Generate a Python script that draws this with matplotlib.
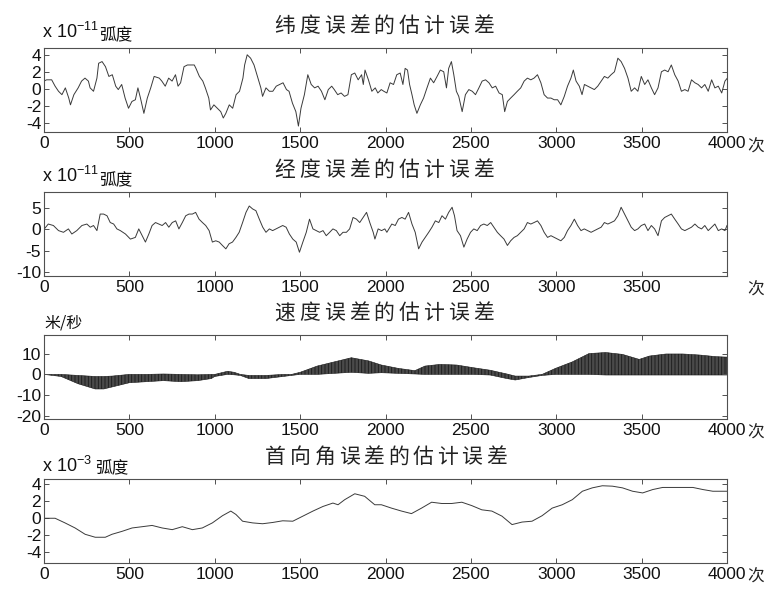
import numpy as np
import matplotlib
matplotlib.use("Agg")
import matplotlib.pyplot as plt

plt.rcParams.update({
    "axes.unicode_minus": False,
    "mathtext.fontset": "custom",
    "mathtext.rm": "Liberation Sans",
    "mathtext.default": "regular",
    "hatch.linewidth": 0.6,
})

W, H = 773, 589
CJK = ["Noto Sans CJK SC", "DejaVu Sans"]
NUM = "Liberation Sans"
TRACE = "#3a3a3a"
AXC = "#505050"

# latitude error estimate (x 1e-11 rad)
lat_x = [0, 15, 45, 65, 85, 105, 125, 145, 155, 175, 200, 220, 240, 260, 270, 290, 310, 320, 340, 360,
         380, 400, 420, 435, 455, 475, 495, 515, 535, 550, 565, 585, 605, 625, 645, 675, 690, 710, 730, 750,
         770, 785, 800, 820, 840, 860, 880, 890, 910, 930, 945, 965, 975, 995, 1015, 1035, 1050, 1065, 1085, 1105,
         1125, 1145, 1165, 1175, 1190, 1210, 1230, 1250, 1270, 1280, 1300, 1320, 1340, 1360, 1380, 1400, 1420, 1435, 1455, 1475,
         1490, 1505, 1525, 1545, 1565, 1585, 1605, 1625, 1645, 1665, 1685, 1700, 1720, 1740, 1760, 1780, 1800, 1820, 1840, 1860,
         1870, 1880, 1900, 1920, 1940, 1955, 1975, 1990, 2008, 2027, 2047, 2066, 2086, 2102, 2115, 2129, 2141, 2155, 2168, 2184,
         2204, 2223, 2243, 2263, 2282, 2302, 2321, 2341, 2357, 2370, 2386, 2400, 2415, 2429, 2449, 2468, 2488, 2508, 2527, 2547,
         2566, 2586, 2606, 2625, 2645, 2665, 2684, 2698, 2714, 2733, 2753, 2772, 2792, 2812, 2831, 2851, 2870, 2890, 2910, 2929,
         2949, 2969, 2988, 3008, 3027, 3047, 3066, 3086, 3100, 3116, 3135, 3151, 3165, 3184, 3204, 3223, 3243, 3263, 3282, 3302,
         3321, 3341, 3361, 3380, 3400, 3420, 3439, 3459, 3478, 3498, 3518, 3537, 3557, 3576, 3596, 3616, 3635, 3655, 3674, 3694,
         3714, 3733, 3753, 3772, 3792, 3812, 3831, 3851, 3870, 3890, 3910, 3929, 3949, 3969, 3988, 4000]
lat_y = [0.9, 1.05, 1.05, 0.3, -0.3, -0.7, 0.1, -1.1, -1.9, -0.7, 0.1, 0.9, 1.25, 0.9, 0.1, -0.3, 1.25, 3.0, 3.2, 2.6,
         1.45, 1.65, 0.3, -0.1, 0.5, -1.1, -2.3, -1.5, -1.3, 0.1, -1.1, -2.9, -1.1, 0.1, 1.45, 1.25, 0.9, 0.3, 1.25, 0.9,
         1.65, 0.3, 0.7, 2.6, 2.8, 2.8, 2.8, 2.4, 1.45, 0.9, 0.1, -1.1, -2.5, -1.9, -2.3, -2.7, -3.45, -2.9, -1.9, -2.3,
         -0.7, -0.3, 1.25, 2.8, 4.0, 3.6, 2.8, 1.45, 0.1, -0.9, 0.1, -0.3, -0.3, 0.3, 0.5, 0.7, -0.1, -0.3, -1.7, -2.7,
         -4.4, -2.3, -0.7, 1.65, 0.5, 0.1, 0.3, -0.3, -1.3, -0.1, 0.3, -0.1, -0.7, -0.5, -0.9, -0.7, 1.65, 1.85, 1.05, 1.65,
         0.5, 2.2, 1.05, -0.3, 0.1, -0.5, -0.1, -0.3, -0.5, 0.7, 0.5, 1.65, 1.85, 0.5, 2.4, 2.2, 0.5, -0.7, -1.9, -2.9,
         -1.9, -1.1, 0.1, 1.25, 0.7, 1.45, 2.2, 2.0, 0.1, 2.4, 3.2, 1.65, -0.3, -0.9, -2.7, -0.7, -0.1, -0.3, -0.7, 0.1,
         0.9, 1.05, 0.7, 0.1, 0.3, -0.5, -0.7, -2.7, -1.5, -1.1, -0.7, -0.3, 0.1, 0.9, 1.25, 1.05, 1.25, 1.65, 0.7, -0.7,
         -1.1, -1.1, -1.3, -1.3, -1.9, -0.9, 0.3, 1.25, 2.2, 0.9, 0.3, -0.7, 0.5, 0.3, 0.1, -0.1, 0.3, 0.9, 1.45, 1.25,
         1.65, 2.0, 3.6, 3.2, 2.4, 1.25, -0.3, 0.1, -0.3, 1.45, 0.5, 1.05, 0.1, -0.7, 0.1, 2.0, 2.2, 2.0, 2.8, 1.65,
         0.9, -0.3, -0.1, -0.3, 1.05, 0.7, 0.5, 0.1, 0.5, -0.3, 1.05, 0.1, 0.3, -0.5, 0.9, 1.2]

# longitude error estimate (x 1e-11 rad)
lon_x = [0, 25, 55, 85, 114, 143, 163, 192, 222, 251, 271, 290, 310, 329, 349, 369, 388, 408, 427, 447,
         477, 506, 535, 555, 575, 594, 614, 633, 653, 673, 692, 712, 731, 751, 771, 790, 810, 830, 849, 869,
         888, 908, 928, 947, 967, 986, 1006, 1026, 1045, 1065, 1084, 1104, 1124, 1143, 1163, 1183, 1202, 1222, 1241, 1261,
         1281, 1300, 1320, 1339, 1359, 1379, 1398, 1418, 1437, 1457, 1477, 1496, 1516, 1536, 1555, 1575, 1595, 1614, 1634, 1653,
         1673, 1692, 1712, 1732, 1751, 1771, 1790, 1810, 1830, 1849, 1869, 1889, 1908, 1928, 1938, 1957, 1977, 1996, 2008, 2037,
         2057, 2076, 2096, 2115, 2135, 2155, 2174, 2194, 2214, 2233, 2253, 2272, 2292, 2312, 2331, 2351, 2370, 2390, 2404, 2419,
         2439, 2459, 2478, 2498, 2517, 2537, 2557, 2576, 2596, 2616, 2635, 2655, 2674, 2694, 2714, 2733, 2753, 2772, 2792, 2812,
         2831, 2851, 2870, 2890, 2910, 2929, 2949, 2969, 2988, 3008, 3027, 3047, 3066, 3086, 3106, 3125, 3145, 3164, 3184, 3204,
         3223, 3243, 3263, 3282, 3302, 3321, 3341, 3361, 3380, 3400, 3420, 3439, 3459, 3478, 3498, 3518, 3537, 3557, 3576, 3596,
         3616, 3635, 3655, 3674, 3694, 3714, 3733, 3753, 3772, 3792, 3812, 3831, 3851, 3870, 3890, 3910, 3929, 3949, 3969, 3988, 4000]
lon_y = [0.0, 1.25, 0.9, -0.3, -0.7, 0.1, -1.1, -0.3, 0.9, 1.25, 0.5, 0.9, -0.3, 3.6, 3.6, 3.2, 1.6, 1.25, 0.1, -0.3,
         -1.1, -2.3, -1.9, 0.1, -1.5, -3.0, -1.1, 0.9, 1.6, 1.25, 0.9, 1.6, 0.5, 1.6, 2.0, 0.1, 1.6, 3.2, 3.6, 3.6,
         4.0, 2.4, 1.6, 0.9, -0.3, -3.0, -2.7, -3.0, -3.8, -4.6, -3.4, -3.0, -1.9, -0.7, 1.6, 4.0, 5.5, 4.8, 4.4, 2.4,
         0.5, -0.7, 0.1, -0.3, 0.1, 0.5, 0.9, 0.5, -1.1, -2.3, -3.0, -5.4, -3.0, -0.7, 2.4, 0.1, -0.3, -0.7, -0.3, -1.5,
         -0.7, 0.1, -0.3, -1.5, -0.7, -0.7, 0.1, 2.8, 2.4, 1.6, 2.8, 4.0, 1.6, -0.7, -2.3, 0.1, -0.3, 0.1, -0.7, 1.25,
         0.9, 2.4, 2.8, 2.4, 4.0, 1.25, -0.7, -4.6, -3.0, -1.9, -0.7, 0.5, 2.0, 1.6, 3.2, 2.4, 4.0, 5.2, 3.2, -0.3,
         -1.5, -4.2, -2.3, -0.7, 0.1, -0.3, 0.9, 1.25, 0.9, 1.6, 0.5, -0.7, -1.5, -2.3, -3.8, -2.7, -1.9, -1.5, -0.7, 0.1,
         1.6, 1.25, 1.6, 2.0, 0.9, -0.7, -1.9, -1.5, -1.9, -2.3, -2.7, -1.9, -0.3, 0.9, 2.4, 0.9, -0.3, 0.1, -0.3, -0.7,
         -0.3, 0.1, 0.5, 1.6, 1.25, 1.6, 2.0, 3.2, 5.2, 3.6, 2.0, 0.5, -0.3, 0.1, 0.9, 1.25, -0.3, 0.9, 0.1, -1.5,
         2.0, 2.8, 3.2, 3.6, 2.4, 1.25, 0.1, -0.3, 0.1, 0.5, 1.25, 0.5, 0.1, 0.9, -0.3, 0.5, 1.25, -0.3, 0.1, -0.3, 0.9]

# velocity error estimate (m/s): envelope of the fast oscillation
vel_x = [0, 100, 200, 300, 350, 400, 500, 600, 700, 800, 900, 980, 1000, 1075, 1114, 1150, 1200, 1300, 1400, 1450,
         1500, 1600, 1700, 1800, 1900, 1976, 2074, 2172, 2231, 2319, 2417, 2515, 2613, 2711, 2760, 2839, 2917, 2996, 3094, 3192,
         3290, 3388, 3486, 3545, 3643, 3741, 3839, 3937, 4000]
vel_hi = [0, 0, -0.5, -1, -1, -0.8, 0, 0, 0.2, 0, -0.2, 0, 0, 1.5, 1, 0, -0.5, -0.5, 0, 0,
          1, 4, 6, 8, 6.5, 4.5, 2.9, 1.8, 4, 4.8, 4.5, 3.2, 2, 0.2, -0.8, -0.8, 0, 2.9, 6, 10,
          10.5, 9.6, 7.2, 8.8, 9.8, 9.8, 9.3, 8.5, 8.3]
vel_lo = [0, -1, -4.5, -7, -7, -6, -4, -3.5, -3, -3.5, -3, -2, -1, 0, -0.2, -0.5, -2, -2, -1, -0.5,
          0, 0, 0.5, 1, 0.5, 0.8, 0.5, 0.2, 0, 0, 0, 0, -0.3, -2, -2.7, -1.5, -0.5, 0, 0, 0,
          -0.3, -0.3, -0.3, -0.3, -0.3, -0.3, -0.3, -0.3, -0.3]

# heading error estimate (x 1e-3 rad)
hdg_x = [0, 65, 123, 182, 241, 300, 359, 398, 457, 516, 575, 633, 692, 751, 810, 869, 927, 986, 1045, 1094,
         1124, 1163, 1222, 1280, 1339, 1398, 1457, 1516, 1575, 1634, 1692, 1722, 1761, 1820, 1878, 1937, 1976, 2035, 2094, 2152,
         2211, 2270, 2329, 2388, 2447, 2505, 2564, 2623, 2682, 2741, 2800, 2858, 2917, 2976, 3035, 3094, 3153, 3211, 3270, 3329,
         3388, 3447, 3506, 3565, 3623, 3682, 3741, 3800, 3859, 3917, 4000]
hdg_y = [0, 0, -0.55, -1.15, -1.9, -2.25, -2.25, -1.9, -1.55, -1.15, -1.0, -0.85, -1.15, -1.35, -1.0, -1.35, -1.15, -0.55, 0.3, 0.85,
         0.45, -0.35, -0.55, -0.65, -0.5, -0.3, -0.35, 0.25, 0.85, 1.4, 1.8, 1.6, 2.2, 2.9, 2.6, 1.6, 1.6, 1.2, 0.85, 0.55,
         1.2, 1.9, 1.75, 1.75, 1.9, 1.5, 1.0, 0.85, 0.25, -0.75, -0.45, -0.35, 0.3, 1.2, 1.6, 2.2, 3.2, 3.6, 3.85, 3.8,
         3.6, 3.2, 3.0, 3.4, 3.65, 3.65, 3.65, 3.65, 3.4, 3.2, 3.2]

TITLES = ["纬度误差的估计误差", "经度误差的估计误差", "速度误差的估计误差", "首向角误差的估计误差"]
YTICKS = [[-4, -2, 0, 2, 4], [-10, -5, 0, 5], [-20, -10, 0, 10], [-4, -2, 0, 2, 4]]
YLIMS = [(-5.1, 4.8), (-11.0, 8.8), (-21.4, 18.9), (-5.3, 4.65)]
XTICKS_FULL = [0, 500, 1000, 1500, 2000, 2500, 3000, 3500, 4000]
XTICKS_SHORT = [0, 500, 1000, 1500, 2000, 2500, 3000, 3500]

# panel geometry in pixels: (top, bottom)
PANELS = [(48, 132), (192, 276), (335, 419), (479, 563)]
LEFT, RIGHT = 44, 727


def fx(x):
    return x / W


def fy(y):
    return 1 - y / H


def spaced(fig, text, cx, cy, pitch, size):
    n = len(text)
    x0 = cx - pitch * (n - 1) / 2
    for i, ch in enumerate(text):
        fig.text(fx(x0 + i * pitch), fy(cy), ch, family=CJK, fontsize=size,
                 ha="center", va="center", color="#222222")


fig = plt.figure(figsize=(W / 100, H / 100), dpi=100)
axes = []
for top, bot in PANELS:
    ax = fig.add_axes([fx(LEFT), fy(bot), (RIGHT - LEFT) / W, (bot - top) / H])
    axes.append(ax)

axes[0].plot(lat_x, lat_y, color=TRACE, lw=0.7)
axes[1].plot(lon_x, lon_y, color=TRACE, lw=0.7)
axes[2].fill_between(vel_x, vel_lo, vel_hi, facecolor="#4a4a4a", edgecolor="#1a1a1a",
                     hatch="|||||", lw=0.4)
axes[3].plot(hdg_x, hdg_y, color=TRACE, lw=0.7)

for i, ax in enumerate(axes):
    ax.set_xlim(0, 4000)
    ax.set_ylim(*YLIMS[i])
    ax.set_yticks(YTICKS[i])
    ax.set_xticks(XTICKS_SHORT if i == 1 else XTICKS_FULL)
    ax.tick_params(direction="in", length=3.5, width=0.7, color=AXC,
                   top=True, right=True, labelsize=12.5, pad=3)
    ax.tick_params(axis="y", pad=2)
    for lab in ax.get_xticklabels() + ax.get_yticklabels():
        lab.set_family(NUM)
        lab.set_color("#111111")
    for s in ax.spines.values():
        s.set_color(AXC)
        s.set_linewidth(0.8)

# titles
spaced(fig, TITLES[0], 384, 26, 24.8, 15)
spaced(fig, TITLES[1], 384, 170, 24.8, 15)
spaced(fig, TITLES[2], 384, 313, 24.8, 15)
spaced(fig, TITLES[3], 386, 457, 24.5, 15)

# unit labels
for base_y, exp, unit_y, ux in [(38, "-11", 36, 99), (182, "-11", 181, 99), (472, "-3", 469, 95)]:
    fig.text(fx(42), fy(base_y), "x 10$^{%s}$" % exp, family=NUM, fontsize=13,
             va="baseline", ha="left", color="#111111")
    fig.text(fx(ux), fy(unit_y), "弧度", family=CJK, fontsize=12, va="center", ha="left", color="#111111")
fig.text(fx(44), fy(323), "米/秒", family=CJK, fontsize=11.5, va="center", ha="left", color="#111111")

# "次" after the x axis
for y in (147, 290, 433, 577):
    fig.text(fx(756), fy(y), "次", family=CJK, fontsize=12, va="center", ha="center", color="#222222")

fig.savefig("out.png", dpi=100, facecolor="white")
